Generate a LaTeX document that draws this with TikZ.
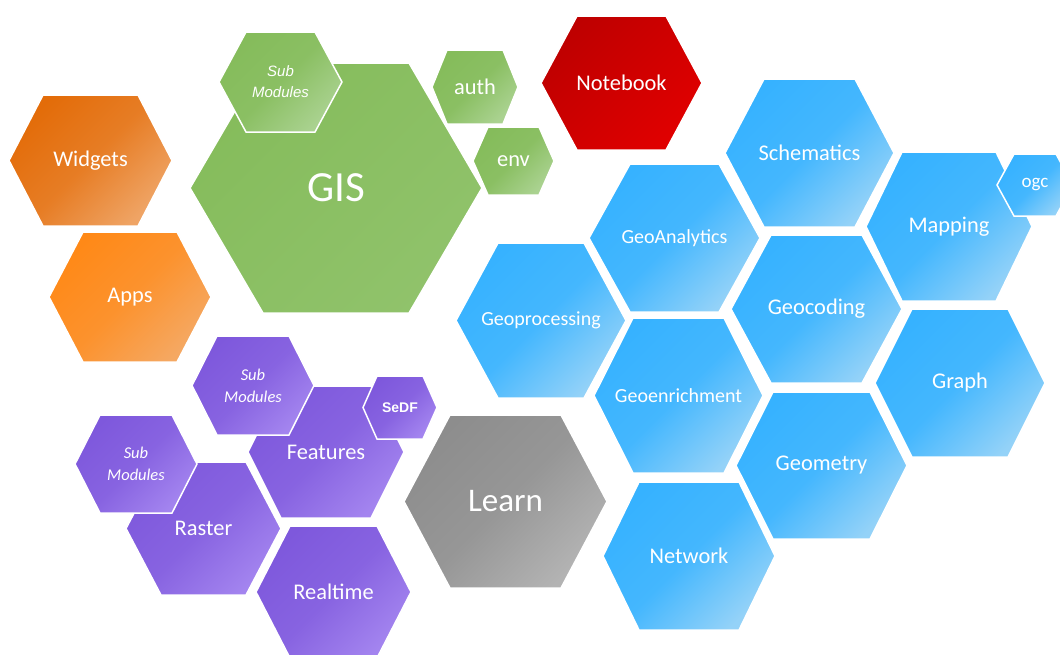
\documentclass[tikz,border=0pt]{standalone}
\usepackage{fontspec}
\usepackage{xcolor}
\usepackage{tikz}
\newfontfamily\hexfont{Carlito}
\newfontfamily\arialfont{Liberation Sans}

\definecolor{blueA}{HTML}{36B2FF}
\definecolor{blueB}{HTML}{94D2F8}
\definecolor{greenA}{HTML}{85BC5B}
\definecolor{greenB}{HTML}{AAD290}
\definecolor{orangeA}{HTML}{E36C09}
\definecolor{orangeB}{HTML}{EFA465}
\definecolor{orangeC}{HTML}{FF8917}
\definecolor{orangeD}{HTML}{F5A862}
\definecolor{redA}{HTML}{BE0000}
\definecolor{redB}{HTML}{E00000}
\definecolor{purpleA}{HTML}{7E58DC}
\definecolor{purpleB}{HTML}{A384EF}
\definecolor{greyA}{HTML}{8D8D8D}
\definecolor{greyB}{HTML}{B3B3B3}

\tikzset{
  cell/.style={draw=white, line width=1.5pt},
  bluecell/.style={cell, top color=blueA, bottom color=blueB, middle color=blueA!85!blueB, shading angle=45},
  greencell/.style={cell, top color=greenA, bottom color=greenB, middle color=greenA!85!greenB, shading angle=45},
  gisgreen/.style={cell, top color=greenA, bottom color=greenA!70!greenB, shading angle=45},
  widgetcell/.style={cell, top color=orangeA, bottom color=orangeB, middle color=orangeA!70!orangeB, shading angle=45},
  appcell/.style={cell, top color=orangeC, bottom color=orangeD, middle color=orangeC!70!orangeD, shading angle=45},
  redcell/.style={cell, top color=redA, bottom color=redB, shading angle=45},
  purplecell/.style={cell, top color=purpleA, bottom color=purpleB, middle color=purpleA!75!purpleB, shading angle=45},
  greycell/.style={cell, top color=greyA, bottom color=greyB, middle color=greyA!75!greyB, shading angle=45},
  hexlabel/.style={text=white, inner sep=0pt, align=center, font=\hexfont\fontsize{22.4}{26}\selectfont},
  smalllabel/.style={font=\hexfont\fontsize{20}{24}\selectfont},
  sublabel/.style={font=\hexfont\itshape\fontsize{16.5}{22}\selectfont},
}

% [label style]{cell style}{name}{cx}{cy}{half width}{half height}{inset}{text}
\newcommand{\hexcell}[9][]{%
  \path[#2] (#4-#6,#5) -- ++(#8,-#7) -- ++(2*#6-2*#8,0) -- ++(#8,#7)
    -- ++(-#8,#7) -- ++(-2*#6+2*#8,0) -- cycle;
  \node[hexlabel,#1] (#3) at (#4,#5) {#9};}

\begin{document}
\begin{tikzpicture}[x=1pt, y=-1pt]
  \useasboundingbox (0,0) rectangle (1060,654);
  \clip (0,0) rectangle (1060,654);

  % orange
  \hexcell{widgetcell}{widgets}{90.5}{160.5}{81.5}{65.5}{34}{Widgets}
  \hexcell{appcell}{apps}{130}{297}{81}{65}{34}{Apps}

  % green
  \hexcell[font=\hexfont\fontsize{43}{50}\selectfont]{gisgreen}{gis}{336}{188}{146}{125}{73}{GIS}
  \hexcell[font=\arialfont\itshape\fontsize{15}{21}\selectfont]{greencell}{gissub}{280.5}{82}{61.5}{50}{27}{Sub\\Modules}
  \hexcell{greencell}{auth}{475}{87}{43}{37}{15}{auth}
  \hexcell{greencell}{env}{513.5}{161}{40.5}{34}{15}{env}

  % red
  \hexcell{redcell}{notebook}{621.5}{83}{80.5}{67}{36}{Notebook}

  % blue
  \hexcell{bluecell}{schematics}{809.5}{153}{84.5}{74}{39}{Schematics}
  \hexcell[smalllabel]{bluecell}{geoanalytics}{674.5}{238}{85.5}{74}{41}{GeoAnalytics}
  \hexcell{bluecell}{mapping}{949}{226.5}{83}{74.5}{36}{Mapping}
  \hexcell[font=\hexfont\fontsize{19}{22}\selectfont]{bluecell}{ogc}{1035}{185}{38}{31}{17}{ogc}
  \hexcell[smalllabel]{bluecell}{geoprocessing}{541}{320.5}{85}{77.5}{42}{Geoprocessing}
  \hexcell{bluecell}{geocoding}{816.5}{309}{85.5}{74}{40}{Geocoding}
  \hexcell[smalllabel]{bluecell}{geoenrichment}{678.5}{395.5}{84.5}{77.5}{39}{Geoenrichment}
  \hexcell{bluecell}{graph}{960}{383}{85}{74}{37}{Graph}
  \hexcell{bluecell}{geometry}{821.5}{465.5}{85.5}{73.5}{37}{Geometry}
  \hexcell{bluecell}{network}{689}{556}{86}{74}{36}{Network}

  % grey
  \hexcell[font=\hexfont\fontsize{33}{38}\selectfont]{greycell}{learn}{505.5}{501.5}{101.5}{86.5}{46}{Learn}

  % purple
  \hexcell{purplecell}{raster}{203.5}{528.5}{77.5}{66.5}{35}{Raster}
  \hexcell[sublabel]{purplecell}{rastsub}{136}{464}{61}{49}{25}{Sub\\Modules}
  \hexcell{purplecell}{features}{326}{452}{78}{66}{33}{Features}
  \hexcell[sublabel]{purplecell}{featsub}{253}{385.5}{61}{49.5}{25}{Sub\\Modules}
  \hexcell[font=\arialfont\bfseries\fontsize{14}{17}\selectfont]{purplecell}{sedf}{400}{407.5}{37}{31.5}{14}{SeDF}
  \hexcell{purplecell}{realtime}{333.5}{592}{77.5}{66}{34}{Realtime}
\end{tikzpicture}
\end{document}
